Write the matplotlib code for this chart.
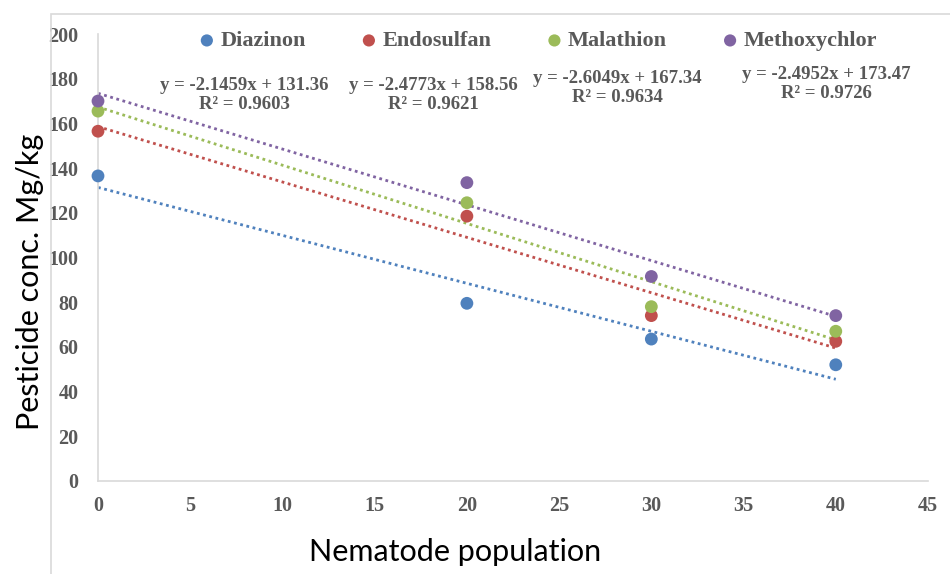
import matplotlib.pyplot as plt
from matplotlib.patches import Rectangle
import numpy as np

# data
population = [0, 20, 30, 40]
diazinon = [136.5, 79.5, 63.5, 52]
endosulfan = [156.5, 118.5, 74, 62.5]
malathion = [165.5, 124.5, 78, 67]
methoxychlor = [170, 133.5, 91.5, 74]

series_names = ['Diazinon', 'Endosulfan', 'Malathion', 'Methoxychlor']
colors = ['#4F81BD', '#C0504D', '#9BBB59', '#8064A2']

# trendline equations shown on the chart
slopes = [-2.1459, -2.4773, -2.6049, -2.4952]
intercepts = [131.36, 158.56, 167.34, 173.47]
r2_values = ['0.9603', '0.9621', '0.9634', '0.9726']
label_pos = [(7.95, 172.5), (18.2, 172.5), (28.15, 175.8), (39.5, 177.6)]

x_ticks = list(range(0, 50, 5))
y_ticks = list(range(0, 220, 20))

serif = 'Liberation Serif'
sans = ['Lato', 'DejaVu Sans']
gray = '#595959'
axis_gray = '#D9D9D9'

fig = plt.figure(figsize=(9.5, 5.74), dpi=100)
ax = fig.add_axes([98 / 950, 1 - 481 / 574, 830 / 950, 447 / 574])

# outer chart border (only top and left visible)
fig.patches.append(Rectangle((51 / 950, -0.1), 1.2, 1.1 - 14 / 574,
                             transform=fig.transFigure, fill=False,
                             edgecolor=axis_gray, linewidth=1.2))

all_series = [diazinon, endosulfan, malathion, methoxychlor]
for name, ys, c, m, b in zip(series_names, all_series, colors, slopes, intercepts):
    ax.scatter(population, ys, s=85, color=c, label=name, zorder=3,
               edgecolors='none', clip_on=False)
    xs = np.array([0, 40])
    ax.plot(xs, m * xs + b, color=c, linestyle=(0, (1, 1.3)), linewidth=2, zorder=2)

for (px, py), m, b, r2 in zip(label_pos, slopes, intercepts, r2_values):
    txt = 'y = %gx + %g\nR\u00b2 = %s' % (m, b, r2)
    ax.text(px, py, txt, ha='center', va='center', multialignment='center',
            fontsize=13.5, fontweight='bold', family=serif, color=gray,
            linespacing=1.15)

ax.set_xlim(0, 45)
ax.set_ylim(0, 200)
ax.set_xticks(x_ticks)
ax.set_yticks(y_ticks)
for lbl in ax.get_xticklabels() + ax.get_yticklabels():
    lbl.set_family(serif)
    lbl.set_fontweight('bold')
    lbl.set_fontsize(14.5)
    lbl.set_color(gray)
ax.tick_params(length=0)
ax.tick_params(axis='x', pad=11)
ax.tick_params(axis='y', pad=14)

for side in ['top', 'right']:
    ax.spines[side].set_visible(False)
for side in ['left', 'bottom']:
    ax.spines[side].set_color(axis_gray)
    ax.spines[side].set_linewidth(1.2)

fig.text(455 / 950, 1 - 552 / 574, 'Nematode population', ha='center', va='center',
         fontsize=22, family=sans)
fig.text(30 / 950, 1 - 282 / 574, 'Pesticide conc. Mg/kg', ha='center', va='center',
         rotation=90, fontsize=22, family=sans)

leg = fig.legend(loc='center', bbox_to_anchor=(538 / 950, 1 - 41 / 574), ncol=4,
                 frameon=False, handlelength=0.7, handletextpad=0.25,
                 columnspacing=2.5,
                 prop={'family': serif, 'weight': 'bold', 'size': 16},
                 markerscale=0.95)
for t in leg.get_texts():
    t.set_color(gray)

fig.savefig('out.png', dpi=100)
